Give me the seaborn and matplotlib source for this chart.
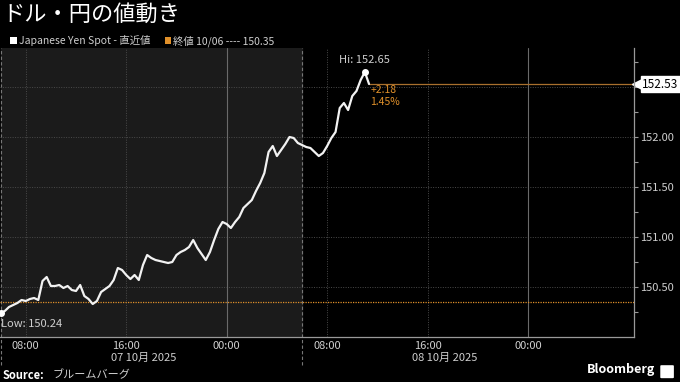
import pandas as pd
import seaborn as sns
import matplotlib.pyplot as plt
from matplotlib.patches import FancyBboxPatch, Rectangle

# USD/JPY spot, 20-minute closes, starting 07 Oct 06:00
start = '2025-10-07 06:00'
price = [150.24, 150.26, 150.30, 150.32, 150.34, 150.37, 150.36, 150.38, 150.39, 150.37,
         150.56, 150.60, 150.51, 150.51, 150.52, 150.49, 150.51, 150.47, 150.46, 150.52,
         150.41, 150.38, 150.33, 150.36, 150.45, 150.48, 150.51, 150.57, 150.69, 150.67,
         150.62, 150.58, 150.62, 150.57, 150.72, 150.82, 150.79, 150.77, 150.76, 150.75,
         150.74, 150.75, 150.82, 150.85, 150.87, 150.90, 150.97, 150.89, 150.83, 150.77,
         150.85, 150.97, 151.08, 151.15, 151.13, 151.09, 151.15, 151.20, 151.29, 151.33,
         151.37, 151.46, 151.54, 151.64, 151.85, 151.91, 151.81, 151.87, 151.93, 152.00,
         151.99, 151.94, 151.92, 151.90, 151.89, 151.85, 151.81, 151.84, 151.91, 151.99,
         152.05, 152.29, 152.34, 152.27, 152.41, 152.46, 152.57, 152.65, 152.53]

prev_close = 150.35
low_val = 150.24
hi_val = 152.65
last_val = 152.53
change_txt = ['+2.18', '1.45%']

y_major = [150.50, 151.00, 151.50, 152.00]
y_minor = [150.25, 150.75, 151.25, 151.75, 152.25, 152.50, 152.75]
y_grid = [150.50, 151.00, 151.50, 152.00, 152.50]

x_tick_times = ['2025-10-07 08:00', '2025-10-07 16:00', '2025-10-08 00:00',
                '2025-10-08 08:00', '2025-10-08 16:00', '2025-10-09 00:00']
x_tick_labels = ['08:00', '16:00', '00:00', '08:00', '16:00', '00:00']
date_labels = ['07 10月 2025', '08 10月 2025']
date_label_times = ['2025-10-07 14:45', '2025-10-08 14:45']
session_end = '2025-10-08 06:00'

ORANGE = '#e0902a'
GRAY_TXT = '#cfcfcf'

sns.set_theme(style='dark')
plt.rcParams['font.family'] = ['Noto Sans CJK JP', 'DejaVu Sans']

times = pd.date_range(start, periods=len(price), freq='20min')
df = pd.DataFrame({'time': times, 'price': price})

fig = plt.figure(figsize=(6.8, 3.82), dpi=100, facecolor='black')
ax = fig.add_axes([0.0, 0.1178, 0.9324, 0.7565])
ax.set_facecolor('black')

x0 = pd.Timestamp('2025-10-07 05:57')
x1 = pd.Timestamp('2025-10-09 08:26')
ax.set_xlim(x0, x1)
ax.set_ylim(150.0, 152.89)

# previous session shading
ax.axvspan(pd.Timestamp(start), pd.Timestamp(session_end), color='#1b1b1b', zorder=0)
for t in [start, session_end]:
    ax.axvline(pd.Timestamp(t), ymin=-0.097, ymax=1, color='#777777', lw=0.8,
               ls=(0, (3, 2)), clip_on=False, zorder=1)

# grid
for y in y_grid:
    ax.axhline(y, color='#4a4a4a', lw=0.7, ls=(0, (1, 1.5)), zorder=1)
for t in x_tick_times:
    ts = pd.Timestamp(t)
    if ts.hour == 0:
        ax.axvline(ts, color='#6a6a6a', lw=0.8, zorder=1)
    else:
        ax.axvline(ts, color='#4a4a4a', lw=0.7, ls=(0, (1, 1.5)), zorder=1)

# previous close and last price lines
ax.axhline(prev_close, color=ORANGE, lw=0.9, ls=(0, (1, 1)), zorder=2)
ax.plot([times[-1], x1], [last_val, last_val], color='#a9702e', lw=0.9, zorder=2)

sns.lineplot(data=df, x='time', y='price', ax=ax, color='#f2f2f2', lw=1.6, zorder=3)

# high / low markers
hi_t = times[price.index(hi_val)]
lo_t = times[price.index(low_val)]
ax.plot([hi_t, lo_t], [hi_val, low_val], 'o', color='white', ms=4, zorder=4)
ax.annotate(f'Hi: {hi_val:.2f}', (hi_t, hi_val), xytext=(0, 5), textcoords='offset points',
            ha='center', va='bottom', color=GRAY_TXT, fontsize=8)
ax.annotate(f'Low: {low_val:.2f}', (lo_t, low_val), xytext=(0, -4), textcoords='offset points',
            ha='left', va='top', color=GRAY_TXT, fontsize=8)
ax.annotate(change_txt[0] + '\n' + change_txt[1], (times[-1], last_val), xytext=(1, -1),
            textcoords='offset points', ha='left', va='top', color=ORANGE, fontsize=7.5,
            linespacing=1.15)

# axes styling
ax.yaxis.tick_right()
ax.set_yticks(y_major)
ax.set_yticklabels([f'{v:.2f}' for v in y_major])
ax.set_yticks(y_minor, minor=True)
ax.set_xticks([pd.Timestamp(t) for t in x_tick_times])
ax.set_xticklabels(x_tick_labels)
ax.set_xticks(pd.date_range('2025-10-07 12:00', '2025-10-09 04:00', freq='8h'), minor=True)
ax.tick_params(axis='y', which='both', direction='out', length=3, width=0.8, color='#999999',
               labelcolor=GRAY_TXT, labelsize=8, pad=1)
ax.tick_params(axis='x', which='both', direction='in', length=3, width=0.8, color='#999999',
               labelcolor=GRAY_TXT, labelsize=8, pad=3)
ax.set_xlabel('')
ax.set_ylabel('')
for side in ['top', 'left']:
    ax.spines[side].set_visible(False)
for side in ['bottom', 'right']:
    ax.spines[side].set_visible(True)
    ax.spines[side].set_color('#999999')
    ax.spines[side].set_linewidth(0.9)
ax.grid(False)

for lab, t in zip(date_labels, date_label_times):
    ax.text(pd.Timestamp(t), -0.055, lab, transform=ax.get_xaxis_transform(),
            ha='left', va='top', color=GRAY_TXT, fontsize=8)

# last price tag
ytr = ax.get_yaxis_transform()
ax.plot([1.004], [last_val], marker='<', ms=7, color='white', transform=ytr, clip_on=False)
ax.text(1.013, last_val, f'{last_val:.2f}', transform=ytr, ha='left', va='center',
        fontsize=8.5, color='black',
        bbox=dict(boxstyle='square,pad=0.15', fc='white', ec='white'))

# title, legend line, footer
fig.text(0.004, 0.962, 'ドル・円の値動き', color='white', fontsize=16, ha='left', va='center')
fig.patches.append(Rectangle((0.015, 0.884), 0.0095, 0.019, transform=fig.transFigure,
                             fc='white', ec='none'))
fig.text(0.028, 0.893, 'Japanese Yen Spot - 直近値', color=GRAY_TXT, fontsize=7.5,
         ha='left', va='center')
fig.patches.append(Rectangle((0.242, 0.884), 0.0095, 0.019, transform=fig.transFigure,
                             fc=ORANGE, ec='none'))
fig.text(0.255, 0.893, f'終値 10/06 ---- {prev_close:.2f}', color=GRAY_TXT, fontsize=7.5,
         ha='left', va='center')

fig.text(0.004, 0.018, 'Source:', color='white', fontsize=8, fontweight='bold',
         ha='left', va='center')
fig.text(0.078, 0.018, 'ブルームバーグ', color=GRAY_TXT, fontsize=8, ha='left', va='center')
fig.text(0.963, 0.032, 'Bloomberg', color='white', fontsize=9, fontweight='bold',
         ha='right', va='center')
fig.patches.append(FancyBboxPatch((0.973, 0.012), 0.016, 0.03, transform=fig.transFigure,
                                  boxstyle='round,pad=0.002', fc='white', ec='none'))

fig.savefig('out.png', dpi=100, facecolor='black')
